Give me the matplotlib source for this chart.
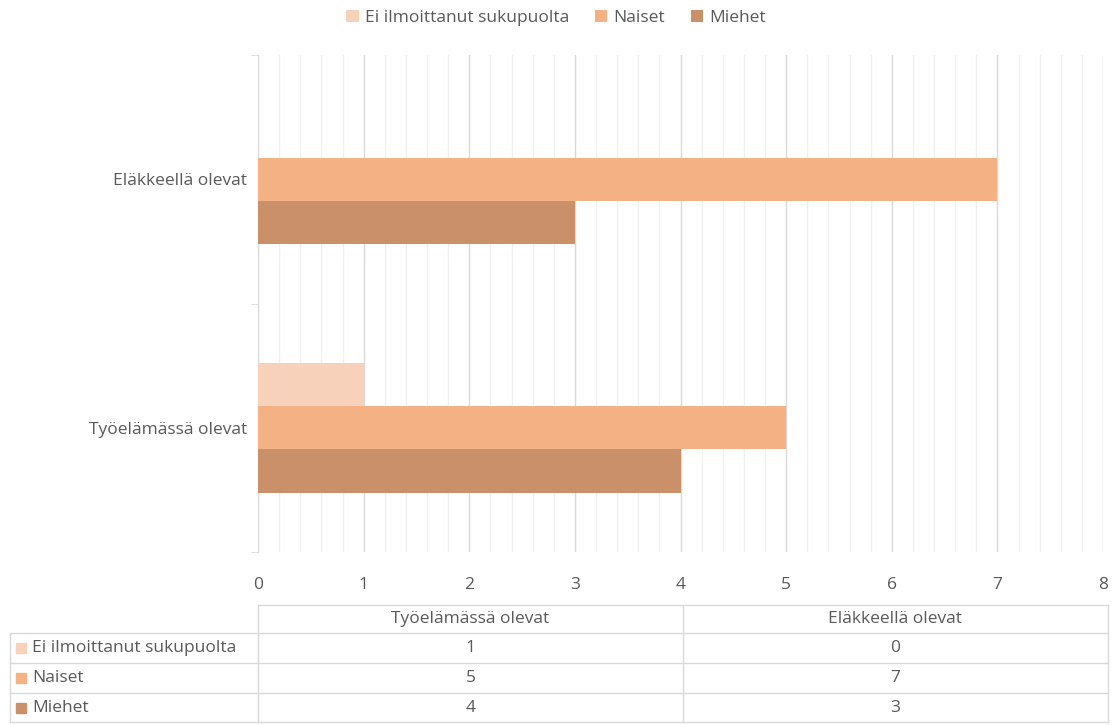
import matplotlib.pyplot as plt
from matplotlib.patches import Rectangle
from matplotlib.ticker import MultipleLocator

plt.rcParams['font.family'] = ['Open Sans', 'DejaVu Sans']

categories = ['Työelämässä olevat', 'Eläkkeellä olevat']
series = ['Ei ilmoittanut sukupuolta', 'Naiset', 'Miehet']
ei_ilmoittanut = [1, 0]
naiset = [5, 7]
miehet = [4, 3]
values = [ei_ilmoittanut, naiset, miehet]
colors = ['#F8D1BA', '#F4B183', '#C9906A']

txt = '#595959'
fs = 12.5
W, H = 1112, 725
fig = plt.figure(figsize=(W / 100, H / 100), dpi=100)

# main chart area (pixel layout)
L, R, T, B = 258, 1103, 55, 552
ax = fig.add_axes([L / W, 1 - B / H, (R - L) / W, (B - T) / H])

bh = 0.175
offsets = [bh, 0, -bh]
for name, vals, off, c in zip(series, values, offsets, colors):
    ys = [i + 0.5 + off for i in range(len(categories))]
    ax.barh(ys, vals, height=bh, color=c, label=name, zorder=3)

ax.set_xlim(0, 8)
ax.set_ylim(0, 2)
ax.xaxis.set_major_locator(MultipleLocator(1))
ax.xaxis.set_minor_locator(MultipleLocator(0.2))
ax.grid(axis='x', which='major', color='#D9D9D9', lw=1, zorder=0)
ax.grid(axis='x', which='minor', color='#F0F0F0', lw=1, zorder=0)
ax.tick_params(axis='x', which='both', length=0, labelsize=fs, labelcolor=txt, pad=18)

ax.set_yticks([i + 0.5 for i in range(len(categories))])
ax.set_yticklabels(categories)
ax.set_yticks([0, 1, 2], minor=True)
ax.tick_params(axis='y', which='major', length=0, labelsize=fs, labelcolor=txt, pad=8)
ax.tick_params(axis='y', which='minor', length=5, color='#D9D9D9', direction='out')

for s in ['top', 'right', 'bottom']:
    ax.spines[s].set_visible(False)
ax.spines['left'].set_color('#D9D9D9')

ax.legend(loc='center', bbox_to_anchor=(556 / W, 1 - 18 / H), bbox_transform=fig.transFigure,
          ncol=3, frameon=False, fontsize=fs, labelcolor=txt, handlelength=0.7, handleheight=0.7,
          handletextpad=0.35, columnspacing=1.5)

# data table under the chart (pixel layout)
tax = fig.add_axes([0, 0, 1, 1])
tax.set_xlim(0, W)
tax.set_ylim(H, 0)
tax.axis('off')
lc = '#D9D9D9'
x0, x1, x2, x3 = 10, 258, 683, 1108
rows_y = [605, 633, 663, 693, 722]

tax.plot([x1, x3], [rows_y[0], rows_y[0]], color=lc, lw=1)
for x in (x1, x2, x3):
    tax.plot([x, x], [rows_y[0], rows_y[-1]], color=lc, lw=1)
tax.plot([x0, x0], [rows_y[1], rows_y[-1]], color=lc, lw=1)
for y in rows_y[1:]:
    tax.plot([x0, x3], [y, y], color=lc, lw=1)

yc = (rows_y[0] + rows_y[1]) / 2
for j, cat in enumerate(categories):
    xc = ((x1, x2)[j] + (x2, x3)[j]) / 2
    tax.text(xc, yc, cat, ha='center', va='center', fontsize=fs, color=txt)

for i, (name, vals, c) in enumerate(zip(series, values, colors)):
    yc = (rows_y[i + 1] + rows_y[i + 2]) / 2
    tax.add_patch(Rectangle((x0 + 6, yc - 5), 10, 10, color=c))
    tax.text(x0 + 22, yc, name, ha='left', va='center', fontsize=fs, color=txt)
    for j, v in enumerate(vals):
        xc = ((x1, x2)[j] + (x2, x3)[j]) / 2
        tax.text(xc, yc, str(v), ha='center', va='center', fontsize=fs, color=txt)

fig.savefig('out.png', dpi=100)
